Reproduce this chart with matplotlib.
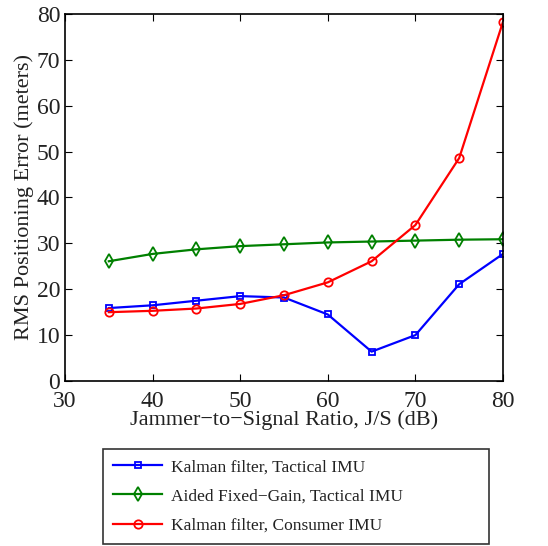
import matplotlib
matplotlib.use("Agg")
import matplotlib.pyplot as plt

# Jammer-to-signal ratio (dB)
js_db = [35, 40, 45, 50, 55, 60, 65, 70, 75, 80]

# RMS positioning error (meters)
kalman_tactical = [15.9, 16.5, 17.5, 18.5, 18.2, 14.5, 6.4, 10.0, 21.1, 27.7]
fixed_gain_tactical = [26.1, 27.7, 28.7, 29.4, 29.8, 30.2, 30.4, 30.6, 30.8, 30.9]
kalman_consumer = [15.0, 15.3, 15.8, 16.8, 18.7, 21.5, 26.1, 34.0, 48.6, 78.3]

labels = [
    "Kalman filter, Tactical IMU",
    "Aided Fixed\u2212Gain, Tactical IMU",
    "Kalman filter, Consumer IMU",
]

plt.rcParams["font.family"] = ["Liberation Serif", "DejaVu Serif"]

fig = plt.figure(figsize=(5.48, 5.46), dpi=100)
ax = fig.add_axes([0.1186, 0.3022, 0.7993, 0.6722])

ax.plot(js_db, kalman_tactical, color=(0, 0, 1), lw=1.6, marker="s",
        ms=5, mfc="none", mew=1.3, label=labels[0])
ax.plot(js_db, fixed_gain_tactical, color=(0, 0.5, 0), lw=1.6, marker="d",
        ms=7, mfc="none", mew=1.3, label=labels[1])
ax.plot(js_db, kalman_consumer, color=(1, 0, 0), lw=1.6, marker="o",
        ms=6, mfc="none", mew=1.3, label=labels[2])

ax.set_xlim(30, 80)
ax.set_ylim(0, 80)
ax.set_xticks(range(30, 81, 10))
ax.set_yticks(range(0, 81, 10))
ax.tick_params(direction="in", top=True, right=True, labelsize=17,
               length=5, width=0.8, colors="black", labelcolor="#222222")
ax.tick_params(axis="x", pad=7)
for sp in ax.spines.values():
    sp.set_linewidth(1.2)

ax.set_xlabel("Jammer\u2212to\u2212Signal Ratio, J/S (dB)", fontsize=16,
              labelpad=-1, color="#222222")
ax.set_ylabel("RMS Positioning Error (meters)", fontsize=16,
              labelpad=2, color="#222222")

# legend box sits in the figure below the axes
leg = ax.legend(loc="upper left", mode="expand",
                bbox_to_anchor=(0.188, 0.007, 0.704, 0.171),
                bbox_transform=fig.transFigure, fontsize=12.5,
                frameon=True, fancybox=False, edgecolor="black",
                handlelength=2.8, labelspacing=0.75, borderpad=0.6,
                handletextpad=0.5, borderaxespad=0)
leg.get_frame().set_linewidth(1.2)
for txt in leg.get_texts():
    txt.set_color("#222222")

fig.savefig("out.png", dpi=100)
